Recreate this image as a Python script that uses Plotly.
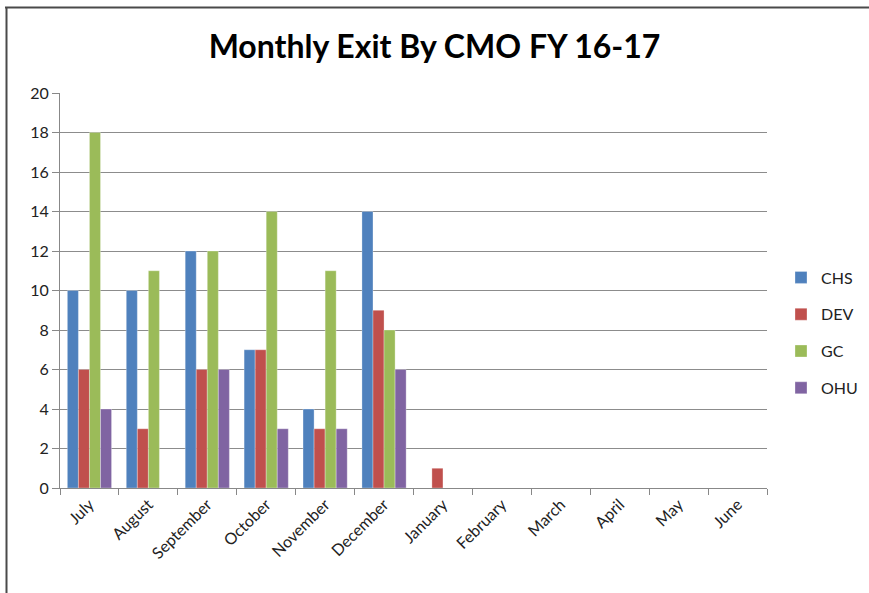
import plotly.graph_objects as go

months = ["July", "August", "September", "October", "November", "December",
          "January", "February", "March", "April", "May", "June"]
chs = [10, 10, 12, 7, 4, 14, 0, 0, 0, 0, 0, 0]
dev = [6, 3, 6, 7, 3, 9, 1, 0, 0, 0, 0, 0]
gc = [18, 11, 12, 14, 11, 8, 0, 0, 0, 0, 0, 0]
ohu = [4, 0, 6, 3, 3, 6, 0, 0, 0, 0, 0, 0]
series = [("CHS", chs, "#4F81BD"), ("DEV", dev, "#C0504D"),
          ("GC", gc, "#9BBB59"), ("OHU", ohu, "#8064A2")]

W, H = 869, 593
L, R, T, B = 60, 767, 93, 488

fig = go.Figure()
for name, vals, col in series:
    fig.add_trace(go.Bar(x=months, y=vals, name=name, legendgroup=name,
                         marker=dict(color=col, line=dict(color="rgba(255,255,255,0.6)", width=0.5))))

def px(x):
    return (x - L) / (R - L)

def py(y):
    return (B - y) / (B - T)

fig.update_layout(
    width=W, height=H,
    margin=dict(l=L, r=W - R, t=T, b=H - B, autoexpand=False),
    paper_bgcolor="white", plot_bgcolor="white",
    barmode="group", bargap=0.25, bargroupgap=0,
    font=dict(family="Lato, Open Sans, sans-serif", size=16, color="#222"),
    title=dict(text="<b>Monthly Exit By CMO FY 16-17</b>", x=0.5, xanchor="center",
               y=1 - 47 / H, yanchor="middle",
               font=dict(family="Lato, Open Sans, sans-serif", size=32, color="#000")),
    legend=dict(x=px(781), xanchor="left", y=py(333), yanchor="middle",
                font=dict(size=16, color="#222"), tracegroupgap=13,
                itemwidth=30, bgcolor="rgba(0,0,0,0)"),
    xaxis=dict(showgrid=False, showline=True, linecolor="#888", linewidth=1,
               ticks="outside", ticklen=6, tickcolor="#888", tickson="boundaries",
               tickangle=-45, tickfont=dict(size=16, color="#222")),
    yaxis=dict(range=[0, 20], dtick=2, showgrid=True, gridcolor="#8c8c8c", gridwidth=1,
               showline=True, linecolor="#888", linewidth=1, zeroline=False,
               ticks="outside", ticklen=7, tickcolor="#888",
               tickfont=dict(size=16, color="#222")),
    shapes=[
        dict(type="line", xref="paper", yref="paper", x0=px(5), x1=px(869), y0=py(7.5), y1=py(7.5),
             line=dict(color="#4a4a4a", width=2)),
        dict(type="line", xref="paper", yref="paper", x0=px(6.5), x1=px(6.5), y0=py(7), y1=py(593),
             line=dict(color="#4a4a4a", width=2)),
    ],
)
fig.write_html("out.html", post_script="document.body.style.margin='0';",
               config={"displayModeBar": False})
